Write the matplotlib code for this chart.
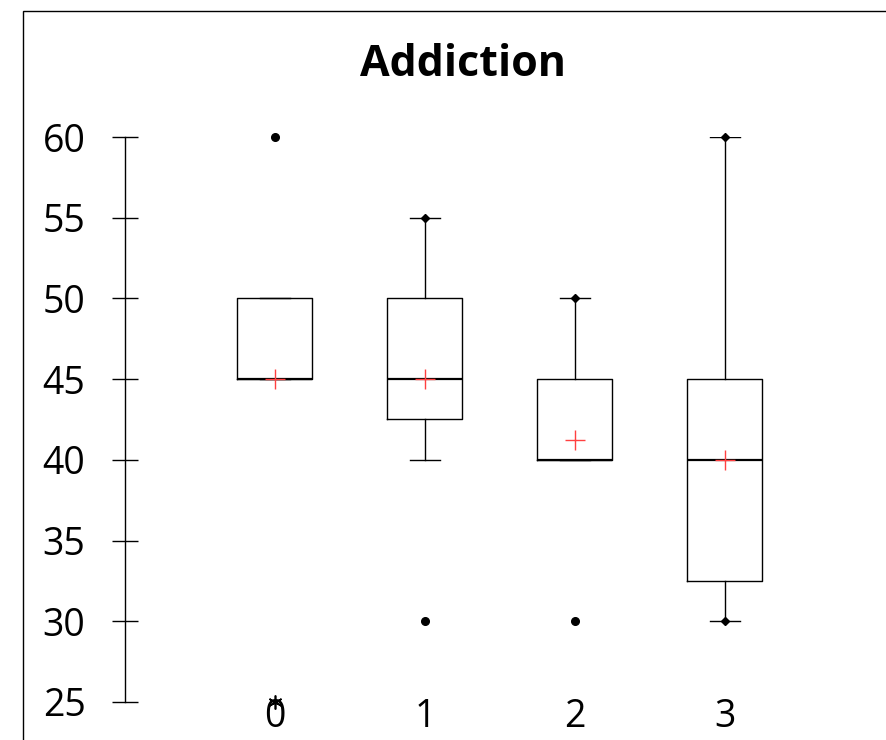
import numpy as np
import matplotlib.pyplot as plt
from matplotlib.patches import Rectangle

plt.rcParams['font.family'] = ['Open Sans', 'DejaVu Sans']

# box plot summary per group
groups = ['0', '1', '2', '3']
q1 = [45, 42.5, 40, 32.5]
med = [45, 45, 40, 40]
q3 = [50, 50, 45, 45]
whislo = [45, 40, 40, 30]
whishi = [50, 55, 50, 60]
means = [45, 45, 41.25, 40]
outliers = [[60], [30], [30], []]
extremes = [[25], [], [], []]
# min / max markers sitting on the whisker ends
minmax = [[], [55], [50], [30, 60]]

W, H, DPI = 887, 740, 100
fig = plt.figure(figsize=(W / DPI, H / DPI), dpi=DPI)

# outer frame of the chart (cut by the image edge)
fig.patches.append(Rectangle((23 / W, -0.1), 1, 1.1 - 11 / H, transform=fig.transFigure,
                             fill=False, edgecolor='black', linewidth=1.0))

pos = np.arange(len(groups))
# axes: x -1 at px 125, 1 unit = 150 px ; y 25..60 from px 702 to 137
x0 = 125 / W
xw = 150 * 5 / W
ax = fig.add_axes([x0, 1 - 702 / H, xw, (702 - 137) / H])

stats = []
for i in range(len(groups)):
    stats.append(dict(q1=q1[i], med=med[i], q3=q3[i], whislo=whislo[i],
                      whishi=whishi[i], fliers=[], mean=means[i]))

lw = 1.0
ax.bxp(stats, positions=pos, widths=0.5, capwidths=0.2, showfliers=False,
       showmeans=False, patch_artist=False,
       boxprops=dict(color='black', linewidth=lw),
       medianprops=dict(color='black', linewidth=1.6),
       whiskerprops=dict(color='black', linewidth=lw),
       capprops=dict(color='black', linewidth=lw))

for i in range(len(groups)):
    ax.plot([pos[i]], [means[i]], marker='+', color='#ff4040', markersize=15,
            markeredgewidth=1.0, linestyle='none', zorder=5, clip_on=False)
    if outliers[i]:
        ax.plot([pos[i]] * len(outliers[i]), outliers[i], marker='o', color='black',
                markersize=5.5, linestyle='none', clip_on=False, zorder=5)
    if extremes[i]:
        ax.plot([pos[i]] * len(extremes[i]), extremes[i], marker=(6, 2, 0), color='black',
                markersize=10, markeredgewidth=1.2, linestyle='none', clip_on=False, zorder=5)
    if minmax[i]:
        ax.plot([pos[i]] * len(minmax[i]), minmax[i], marker='D', color='black',
                markersize=4.5, linestyle='none', clip_on=False, zorder=5)

ax.set_xlim(-1, 4)
ax.set_ylim(25, 60)
ax.set_yticks(np.arange(25, 61, 5))
ax.set_xticks(pos)
ax.set_xticklabels(groups)
for s in ['top', 'right', 'bottom']:
    ax.spines[s].set_visible(False)
ax.spines['left'].set_linewidth(lw)
ax.tick_params(axis='y', direction='inout', length=19, width=lw, labelsize=27, pad=19)
ax.tick_params(axis='x', length=0, labelsize=27, pad=-3)

fig.text(463 / W, 1 - 65 / H, 'Addiction', ha='center', va='center',
         fontsize=31, fontweight='bold')

fig.savefig('out.png', dpi=DPI)
